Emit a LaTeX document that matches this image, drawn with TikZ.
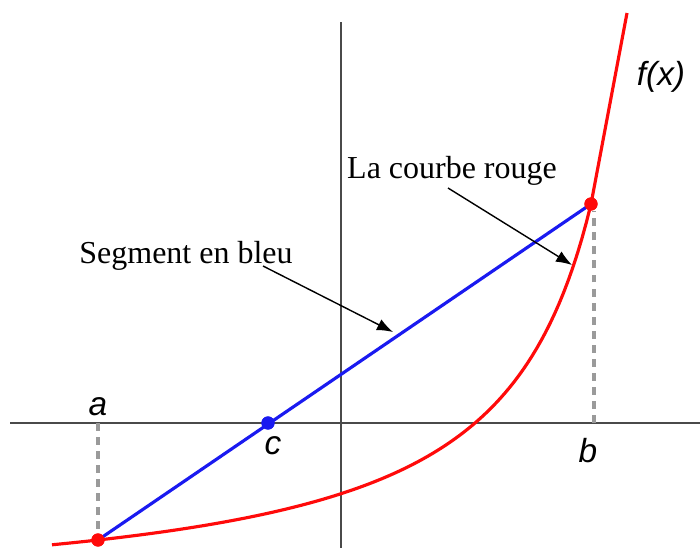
\documentclass[tikz,border=0pt]{standalone}
\usepackage{fontspec}
\setmainfont{Liberation Serif}
\newfontfamily\axisfont{Liberation Sans}
\usepackage{tikz}
\usetikzlibrary{positioning,arrows.meta,calc}
\definecolor{graphAxis}{HTML}{4A4A4A}
\definecolor{graphDash}{HTML}{9A9A9A}
\definecolor{graphRed}{HTML}{FF0A0A}
\definecolor{graphBlue}{HTML}{1A1AF0}
\tikzset{
  graphaxis/.style={draw=graphAxis,line width=1pt},
  guideline/.style={draw=graphDash,line width=1.8pt,dash pattern=on 4.5pt off 3.5pt},
  curvered/.style={draw=graphRed,line width=1.8pt},
  segblue/.style={draw=graphBlue,line width=1.8pt},
  dotred/.style={circle,fill=graphRed,inner sep=0pt,minimum size=7.5pt},
  dotblue/.style={circle,fill=graphBlue,inner sep=0pt,minimum size=7.5pt},
  pointlabel/.style={inner sep=0pt,anchor=base,font=\axisfont\itshape\fontsize{19}{22}\selectfont},
  notelabel/.style={inner sep=0pt,anchor=base,font=\fontsize{18.2}{21}\selectfont},
  notearrow/.style={-{Latex[length=3.2mm,width=2.4mm]},draw=black,line width=0.8pt}
}
\begin{document}
\begin{tikzpicture}[x=0.02cm,y=-0.02cm]
    \useasboundingbox (0,0) rectangle (700,548);
    \coordinate (xleft) at (10,423);
    \coordinate (xright) at (700,423);
    \coordinate (ytop) at (341,22);
    \coordinate (ybottom) at (341,548);
    \draw[graphaxis] (xleft) -- (xright);
    \draw[graphaxis] (ytop) -- (ybottom);
    \coordinate (afoot) at (98,423);
    \coordinate (bfoot) at (594,423);
    \coordinate (curvetop) at (627,13);
    \node[dotred] (pa) at (98,540) {};
    \node[dotred] (pb) at (591,204) {};
    \node[dotblue] (pc) at (268,423) {};
    \draw[guideline] (afoot) -- (pa);
    \draw[guideline] (bfoot) -- (pb.south -| bfoot);
    \draw[curvered] plot[domain=52:591,samples=120] ({\x},{606.1-390/((688-\x)/100)})
      -- (curvetop);
    \draw[segblue] (pa.center) -- (pb.center);
    \node[dotred] at (pa) {};
    \node[dotred] at (pb) {};
    \node[dotblue] at (pc) {};
    \node[pointlabel] (la) at (98,415) {a};
    \node[pointlabel] (lb) at (588,462) {b};
    \node[pointlabel] (lc) at (273,454) {c};
    \node[pointlabel] (lf) at (661,85) {f(x)};
    \node[notelabel] (rouge) at (452,178) {La courbe rouge};
    \node[notelabel] (bleu) at (186,263) {Segment en bleu};
    \coordinate (oncurve) at (572,265);
    \coordinate (onsegment) at (393,332);
    \draw[notearrow] (448,188) -- (oncurve);
    \draw[notearrow] (263,266) -- (onsegment);
  \end{tikzpicture}
\end{document}
